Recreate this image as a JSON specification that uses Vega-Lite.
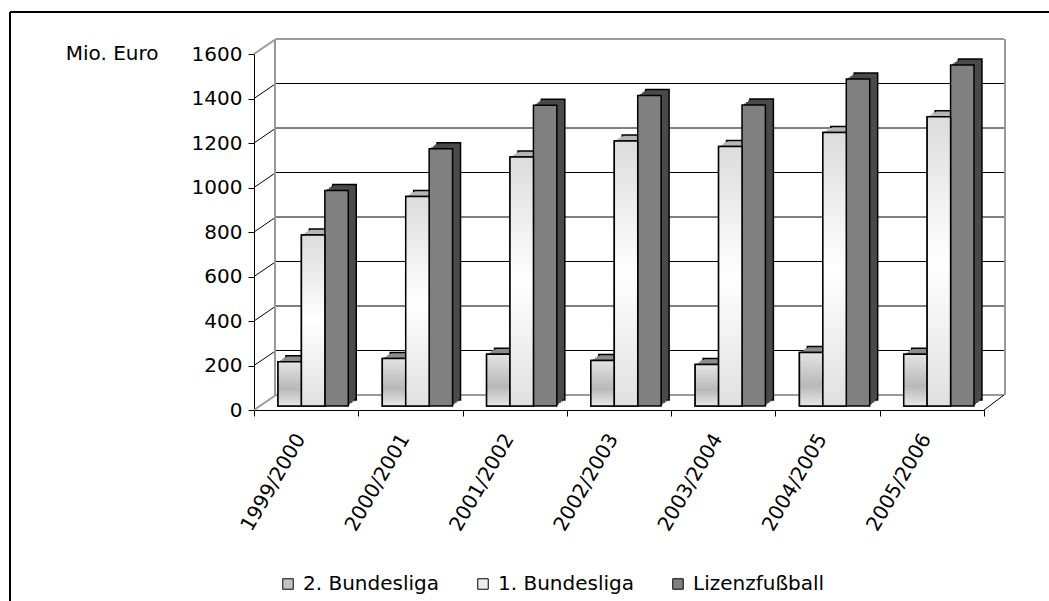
{
  "$schema": "https://vega.github.io/schema/vega-lite/v6.json",
  "width": 730,
  "height": 356,
  "autosize": {"type": "none"},
  "padding": {"left": 254, "top": 54, "right": 65, "bottom": 191},
  "background": "white",
  "config": {
    "view": {"stroke": null},
    "font": "DejaVu Sans",
    "axis": {"labelFont": "DejaVu Sans", "labelFontSize": 20, "labelColor": "black", "domainColor": "black", "tickColor": "black", "titleFont": "DejaVu Sans", "titleFontSize": 20, "titleColor": "black", "titleFontWeight": "normal", "grid": false},
    "legend": {"labelFont": "DejaVu Sans", "labelFontSize": 20, "labelColor": "black"}
  },
  "layer": [
    {
      "layer": [
        {
          "data": {"values": [{"v": 200}, {"v": 400}, {"v": 600}, {"v": 800}, {"v": 1000}, {"v": 1200}, {"v": 1400}]},
          "mark": {"type": "rule", "color": "black", "strokeWidth": 1, "xOffset": 22, "x2Offset": 20, "yOffset": -15, "y2Offset": -15},
          "encoding": {
            "x": {"datum": 0, "type": "quantitative", "scale": {"domain": [0, 1]}, "axis": null},
            "x2": {"datum": 1},
            "y": {"field": "v", "type": "quantitative", "title": "Mio. Euro", "scale": {"domain": [0, 1600], "nice": false}},
            "y2": {"field": "v"}
          }
        },
        {
          "data": {"values": [{"v": 200}, {"v": 400}, {"v": 600}, {"v": 800}, {"v": 1000}, {"v": 1200}, {"v": 1400}]},
          "mark": {"type": "rule", "color": "black", "strokeWidth": 1, "x2Offset": 22, "y2Offset": -15},
          "encoding": {
            "x": {"datum": 0, "type": "quantitative", "scale": {"domain": [0, 1]}, "axis": null},
            "x2": {"datum": 0},
            "y": {"field": "v", "type": "quantitative", "title": "Mio. Euro"},
            "y2": {"field": "v"}
          }
        },
        {
          "data": {"values": [{"v": 0}, {"v": 1600}]},
          "mark": {"type": "rule", "color": "#9a9a9a", "strokeWidth": 2, "xOffset": 22, "x2Offset": 20, "yOffset": -15, "y2Offset": -15},
          "encoding": {
            "x": {"datum": 0, "type": "quantitative", "scale": {"domain": [0, 1]}, "axis": null},
            "x2": {"datum": 1},
            "y": {"field": "v", "type": "quantitative", "title": "Mio. Euro"},
            "y2": {"field": "v"}
          }
        },
        {
          "data": {"values": [{"v": 0}, {"v": 1600}]},
          "mark": {"type": "rule", "color": "#9a9a9a", "strokeWidth": 2, "x2Offset": 22, "y2Offset": -15},
          "encoding": {
            "x": {"datum": 0, "type": "quantitative", "scale": {"domain": [0, 1]}, "axis": null},
            "x2": {"datum": 0},
            "y": {"field": "v", "type": "quantitative", "title": "Mio. Euro"},
            "y2": {"field": "v"}
          }
        },
        {
          "data": {"values": [{"s": 0}, {"s": 1}]},
          "mark": {"type": "rule", "color": "#9a9a9a", "strokeWidth": 2, "xOffset": 21, "yOffset": -15, "y2Offset": -15},
          "encoding": {
            "x": {"field": "s", "type": "quantitative", "scale": {"domain": [0, 1]}, "axis": null},
            "y": {"datum": 0, "type": "quantitative", "title": "Mio. Euro"},
            "y2": {"datum": 1600}
          }
        },
        {
          "data": {"values": [{"s": 1}]},
          "mark": {"type": "rule", "color": "black", "strokeWidth": 1, "x2Offset": 20, "y2Offset": -15},
          "encoding": {
            "x": {"datum": 1, "type": "quantitative", "scale": {"domain": [0, 1]}, "axis": null},
            "x2": {"datum": 1},
            "y": {"datum": 0, "type": "quantitative", "title": "Mio. Euro"},
            "y2": {"datum": 0}
          }
        },
        {
          "data": {"values": [{"s": 0}]},
          "mark": {"type": "rule", "color": "black", "strokeWidth": 2, "xOffset": -244, "x2Offset": 70, "yOffset": -42, "y2Offset": -42},
          "encoding": {
            "x": {"datum": 0, "type": "quantitative", "scale": {"domain": [0, 1]}, "axis": null},
            "x2": {"datum": 1},
            "y": {"datum": 1600, "type": "quantitative", "title": "Mio. Euro"},
            "y2": {"datum": 1600}
          }
        },
        {
          "data": {"values": [{"s": 0}]},
          "mark": {"type": "rule", "color": "black", "strokeWidth": 2, "xOffset": -244, "yOffset": -42, "y2Offset": 200},
          "encoding": {
            "x": {"datum": 0, "type": "quantitative", "scale": {"domain": [0, 1]}, "axis": null},
            "y": {"datum": 1600, "type": "quantitative", "title": "Mio. Euro"},
            "y2": {"datum": 0}
          }
        }
      ]
    },
    {
      "data": {"values": [
        {"season": "1999/2000", "series": "2. Bundesliga", "value": 199},
        {"season": "1999/2000", "series": "1. Bundesliga", "value": 769},
        {"season": "1999/2000", "series": "Lizenzfußball", "value": 968},
        {"season": "2000/2001", "series": "2. Bundesliga", "value": 214},
        {"season": "2000/2001", "series": "1. Bundesliga", "value": 942},
        {"season": "2000/2001", "series": "Lizenzfußball", "value": 1156},
        {"season": "2001/2002", "series": "2. Bundesliga", "value": 233},
        {"season": "2001/2002", "series": "1. Bundesliga", "value": 1119},
        {"season": "2001/2002", "series": "Lizenzfußball", "value": 1352},
        {"season": "2002/2003", "series": "2. Bundesliga", "value": 205},
        {"season": "2002/2003", "series": "1. Bundesliga", "value": 1191},
        {"season": "2002/2003", "series": "Lizenzfußball", "value": 1396},
        {"season": "2003/2004", "series": "2. Bundesliga", "value": 187},
        {"season": "2003/2004", "series": "1. Bundesliga", "value": 1166},
        {"season": "2003/2004", "series": "Lizenzfußball", "value": 1353},
        {"season": "2004/2005", "series": "2. Bundesliga", "value": 241},
        {"season": "2004/2005", "series": "1. Bundesliga", "value": 1229},
        {"season": "2004/2005", "series": "Lizenzfußball", "value": 1470},
        {"season": "2005/2006", "series": "2. Bundesliga", "value": 233},
        {"season": "2005/2006", "series": "1. Bundesliga", "value": 1300},
        {"season": "2005/2006", "series": "Lizenzfußball", "value": 1533}
      ]},
      "layer": [
        {
          "mark": {"type": "bar", "yOffset": -10, "y2Offset": -10, "stroke": "black", "strokeWidth": 1.5},
          "encoding": {
            "x": {"field": "season", "type": "nominal", "title": null, "scale": {"paddingInner": 0, "paddingOuter": 0}},
            "xOffset": {"field": "series", "scale": {"domain": ["2. Bundesliga", "1. Bundesliga", "Lizenzfußball"], "paddingInner": 0, "paddingOuter": 0.726, "align": 0.94}},
            "y": {"field": "value", "type": "quantitative", "title": "Mio. Euro", "scale": {"domain": [0, 1600], "nice": false}},
            "color": {"field": "series", "sort": ["2. Bundesliga", "1. Bundesliga", "Lizenzfußball"], "scale": {"range": ["#8c8c8c", "#b6b6b6", "#4a4a4a"]}, "legend": null}
          }
        },
        {
          "mark": {"type": "bar", "yOffset": -8.5, "y2Offset": -8.5},
          "encoding": {
            "x": {"field": "season", "type": "nominal", "title": null},
            "xOffset": {"field": "series", "scale": {"domain": ["2. Bundesliga", "1. Bundesliga", "Lizenzfußball"], "paddingInner": 0, "paddingOuter": 0.726, "align": 0.882}},
            "y": {"field": "value", "type": "quantitative", "title": "Mio. Euro"},
            "color": {"field": "series", "sort": ["2. Bundesliga", "1. Bundesliga", "Lizenzfußball"], "scale": {"range": ["#8c8c8c", "#b6b6b6", "#4a4a4a"]}, "legend": null}
          }
        },
        {
          "mark": {"type": "bar", "yOffset": -7, "y2Offset": -7},
          "encoding": {
            "x": {"field": "season", "type": "nominal", "title": null},
            "xOffset": {"field": "series", "scale": {"domain": ["2. Bundesliga", "1. Bundesliga", "Lizenzfußball"], "paddingInner": 0, "paddingOuter": 0.726, "align": 0.824}},
            "y": {"field": "value", "type": "quantitative", "title": "Mio. Euro"},
            "color": {"field": "series", "sort": ["2. Bundesliga", "1. Bundesliga", "Lizenzfußball"], "scale": {"range": ["#8c8c8c", "#b6b6b6", "#4a4a4a"]}, "legend": null}
          }
        },
        {
          "mark": {"type": "bar", "yOffset": -5.5, "y2Offset": -5.5},
          "encoding": {
            "x": {"field": "season", "type": "nominal", "title": null},
            "xOffset": {"field": "series", "scale": {"domain": ["2. Bundesliga", "1. Bundesliga", "Lizenzfußball"], "paddingInner": 0, "paddingOuter": 0.726, "align": 0.765}},
            "y": {"field": "value", "type": "quantitative", "title": "Mio. Euro"},
            "color": {"field": "series", "sort": ["2. Bundesliga", "1. Bundesliga", "Lizenzfußball"], "scale": {"range": ["#8c8c8c", "#b6b6b6", "#4a4a4a"]}, "legend": null}
          }
        },
        {
          "mark": {"type": "bar", "yOffset": -4, "y2Offset": -4, "stroke": "black", "strokeWidth": 1.5},
          "encoding": {
            "x": {"field": "season", "type": "nominal", "title": null, "axis": {"title": null, "labelAngle": -60, "labelAlign": "right", "labelBaseline": "middle", "tickBand": "extent", "tickSize": 6, "labelPadding": 19, "labelOffset": -6}},
            "xOffset": {"field": "series", "scale": {"domain": ["2. Bundesliga", "1. Bundesliga", "Lizenzfußball"], "paddingInner": 0, "paddingOuter": 0.726, "align": 0.706}},
            "y": {"field": "value", "type": "quantitative", "title": "Mio. Euro", "axis": {"title": "Mio. Euro", "titleAngle": 0, "titleAlign": "right", "titleBaseline": "middle", "titleX": -96, "titleY": -1, "values": [0, 200, 400, 600, 800, 1000, 1200, 1400, 1600], "format": "d", "tickSize": 6, "labelPadding": 6}},
            "color": {"field": "series", "sort": ["2. Bundesliga", "1. Bundesliga", "Lizenzfußball"], "scale": {"range": ["#c4c4c4", "#ececec", "#808080"]},
              "legend": {"orient": "none", "legendX": 24, "legendY": 520, "direction": "horizontal", "title": null, "padding": 0, "symbolType": "square", "symbolSize": 110, "symbolStrokeColor": "black", "symbolStrokeWidth": 1, "symbolOpacity": 1, "columnPadding": 34, "labelOffset": 5}}
          }
        },
        {
          "transform": [{"filter": "datum.series === '2. Bundesliga'"}],
          "mark": {"type": "bar", "yOffset": -4, "y2Offset": -4, "stroke": "black", "strokeWidth": 1.5,
            "fill": {"gradient": "linear", "x1": 0, "y1": 0, "x2": 0, "y2": 1, "stops": [{"offset": 0, "color": "#e4e4e4"}, {"offset": 0.62, "color": "#b8b8b8"}, {"offset": 1, "color": "#e8e8e8"}]}},
          "encoding": {
            "x": {"field": "season", "type": "nominal", "title": null},
            "xOffset": {"field": "series", "scale": {"domain": ["2. Bundesliga", "1. Bundesliga", "Lizenzfußball"], "paddingInner": 0, "paddingOuter": 0.726, "align": 0.706}},
            "y": {"field": "value", "type": "quantitative", "title": "Mio. Euro"}
          }
        },
        {
          "transform": [{"filter": "datum.series === '1. Bundesliga'"}],
          "mark": {"type": "bar", "yOffset": -4, "y2Offset": -4, "stroke": "black", "strokeWidth": 1.5,
            "fill": {"gradient": "linear", "x1": 0, "y1": 0, "x2": 0, "y2": 1, "stops": [{"offset": 0, "color": "#dcdcdc"}, {"offset": 0.5, "color": "#ffffff"}, {"offset": 1, "color": "#e0e0e0"}]}},
          "encoding": {
            "x": {"field": "season", "type": "nominal", "title": null},
            "xOffset": {"field": "series", "scale": {"domain": ["2. Bundesliga", "1. Bundesliga", "Lizenzfußball"], "paddingInner": 0, "paddingOuter": 0.726, "align": 0.706}},
            "y": {"field": "value", "type": "quantitative", "title": "Mio. Euro"}
          }
        }
      ],
      "resolve": {"scale": {"color": "independent", "xOffset": "independent"}}
    }
  ],
  "resolve": {"scale": {"x": "independent"}}
}
